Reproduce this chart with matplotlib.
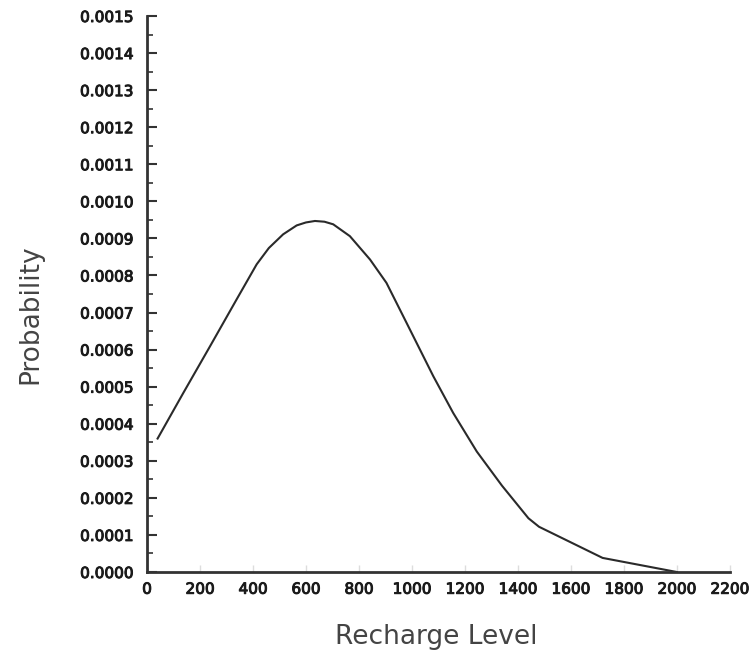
import matplotlib
matplotlib.use("Agg")
import matplotlib.pyplot as plt
import matplotlib.patheffects as pe
from matplotlib.ticker import MultipleLocator, FormatStrFormatter

recharge = [40, 137, 238, 338, 414, 460, 514, 565, 600, 634, 670, 703, 766, 842, 904, 980,
            1081, 1156, 1245, 1340, 1440, 1480, 1720, 2000]
prob = [0.00036, 0.000483, 0.000609, 0.000735, 0.00083, 0.000874, 0.000911, 0.000935, 0.000943,
        0.000947, 0.000945, 0.000938, 0.000906, 0.000843, 0.00078, 0.000672,
        0.000528, 0.000429, 0.000325, 0.000233, 0.000145, 0.000122, 0.000038, 0.0]
xticks = list(range(0, 2201, 200))
yticks = [i * 0.0001 for i in range(16)]

plt.rcParams['font.family'] = ['DejaVu Sans']
fig = plt.figure(figsize=(7.5, 6.58), dpi=100)
ax = fig.add_axes([0.196, 0.1307, 0.777, 0.845])

ax.plot(recharge, prob, color='#2a2a2a', lw=1.5, solid_joinstyle='round')

ax.set_xlim(0, 2200)
ax.set_ylim(0, 0.0015)
ax.set_xticks(xticks)
ax.set_yticks(yticks)
ax.yaxis.set_major_formatter(FormatStrFormatter('%.4f'))
ax.yaxis.set_minor_locator(MultipleLocator(0.00005))

for s in ['top', 'right']:
    ax.spines[s].set_visible(False)
for s in ['left', 'bottom']:
    ax.spines[s].set_linewidth(2)
    ax.spines[s].set_color('#333333')

ax.tick_params(axis='y', which='major', direction='in', length=7, width=1.5,
               color='#333333', pad=10, labelsize=11, labelcolor='#1a1a1a')
ax.tick_params(axis='y', which='minor', direction='in', length=4, width=1.2, color='#333333')
ax.tick_params(axis='x', which='major', direction='in', length=5, width=1, color='#dddddd',
               pad=7, labelsize=11, labelcolor='#1a1a1a')
for lab in ax.get_xticklabels() + ax.get_yticklabels():
    lab.set_path_effects([pe.withStroke(linewidth=0.7, foreground='#1a1a1a')])

ax.set_ylabel('Probability', fontsize=19, color='#444444')
ax.set_xlabel('Recharge Level', fontsize=19, color='#444444')
ax.yaxis.set_label_coords(-0.178, 0.464)
ax.xaxis.set_label_coords(0.497, -0.094)

fig.savefig('out.png', dpi=100)
